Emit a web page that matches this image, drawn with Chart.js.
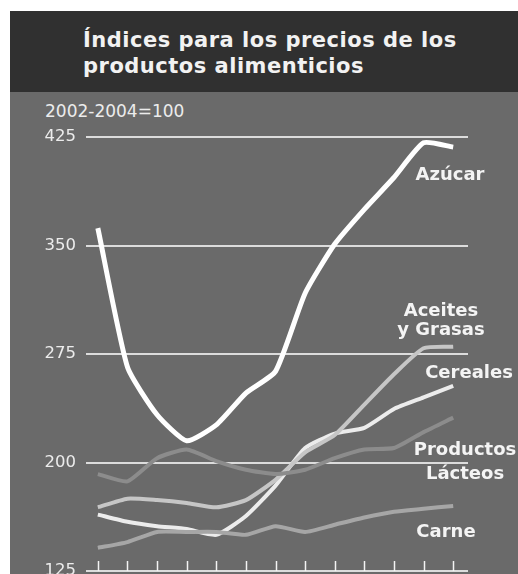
<!DOCTYPE html>
<html lang="es">
<head>
<meta charset="utf-8">
<title>Índices para los precios de los productos alimenticios</title>
<script src="https://cdn.jsdelivr.net/npm/chart.js@4.4.1/dist/chart.umd.min.js"></script>
<style>
  html, body { margin: 0; padding: 0; background: #fff; overflow: hidden; }
  body { width: 518px; height: 574px; position: relative; font-family: "DejaVu Sans", sans-serif; }
  .head {
    position: absolute; left: 10px; top: 11px; width: 508px; height: 81px;
    background: #303030; color: #f2f2f2;
  }
  .head h1 {
    margin: 0; position: absolute; left: 73px; top: 16px;
    font-size: 21px; line-height: 26px; font-weight: bold; letter-spacing: 0.5px;
  }
  .panel {
    position: absolute; left: 10px; top: 92px; width: 508px; height: 500px;
    background: #6a6a6a;
  }
  .base {
    position: absolute; left: 35px; top: 9px; margin: 0;
    color: #ececec; font-size: 17px; line-height: 20px;
  }
  canvas { position: absolute; left: 0; top: 0; }
</style>
</head>
<body>
<div class="head"><h1>Índices para los precios de los<br>productos alimenticios</h1></div>
<div class="panel">
  <p class="base">2002-2004=100</p>
  <canvas id="foodChart" width="508" height="500"></canvas>
</div>
<script>
// Febrero 2010 - febrero 2011, índices 2002-2004=100
const months = ['feb', 'mar', 'abr', 'may', 'jun', 'jul', 'ago', 'sep', 'oct', 'nov', 'dic', 'ene', 'feb'];
const yTicks = [125, 200, 275, 350, 425];

const azucar = [362, 266, 233, 215, 226, 248, 263, 317, 351, 375, 397, 421, 418];
const aceites = [169, 175, 174, 172, 169, 174, 188, 207, 219, 240, 261, 279, 280];
const cereales = [164, 159, 156, 154, 150, 163, 184, 210, 220, 224, 237, 245, 253];
const lacteos = [192, 187, 203, 209, 201, 195, 192, 195, 203, 209, 210, 221, 231];
const carne = [141, 145, 152, 152, 152, 150, 156, 152, 157, 162, 166, 168, 170];

const seriesLabels = [
  { lines: ['Azúcar'], x: 440, y: 83, gap: 0 },
  { lines: ['Aceites', 'y Grasas'], x: 431, y: 219, gap: 19 },
  { lines: ['Cereales'], x: 459, y: 281, gap: 0 },
  { lines: ['Productos', 'Lácteos'], x: 455, y: 358, gap: 24 },
  { lines: ['Carne'], x: 436, y: 440, gap: 0 },
];

const toPoints = (values) => values.map((v, i) => ({ x: i, y: v }));

const lineSet = (label, values, color, width) => ({
  label,
  data: toPoints(values),
  parsing: false,
  borderColor: color,
  borderWidth: width,
  pointRadius: 0,
  tension: 0.18,
  clip: false,
  borderCapStyle: 'butt',
  borderJoinStyle: 'round',
});

const tickMarks = {
  id: 'tickMarks',
  afterDraw(chart) {
    const { ctx, scales, chartArea } = chart;
    ctx.save();
    ctx.strokeStyle = '#f4f4f4';
    ctx.lineWidth = 1.5;
    months.forEach((m, i) => {
      const x = Math.round(scales.x.getPixelForValue(i)) + 0.5;
      ctx.beginPath();
      ctx.moveTo(x, chartArea.bottom - 10);
      ctx.lineTo(x, chartArea.bottom);
      ctx.stroke();
    });
    ctx.restore();
  },
};

const endLabels = {
  id: 'endLabels',
  afterDatasetsDraw(chart) {
    const { ctx } = chart;
    ctx.save();
    ctx.font = 'bold 18px "DejaVu Sans", sans-serif';
    ctx.fillStyle = '#f4f4f4';
    ctx.textAlign = 'center';
    ctx.textBaseline = 'middle';
    seriesLabels.forEach((item) => {
      item.lines.forEach((line, k) => {
        ctx.fillText(line, item.x, item.y + k * item.gap);
      });
    });
    ctx.restore();
  },
};

new Chart(document.getElementById('foodChart'), {
  type: 'line',
  data: {
    datasets: [
      lineSet('Carne', carne, '#a6a6a6', 4),
      lineSet('Productos Lácteos', lacteos, '#8c8c8c', 4),
      lineSet('Aceites y Grasas', aceites, '#c6c6c6', 4),
      lineSet('Cereales', cereales, '#ececec', 4),
      lineSet('Azúcar', azucar, '#ffffff', 5),
    ],
  },
  options: {
    responsive: false,
    animation: false,
    layout: { padding: { top: 45, right: 50, bottom: 21, left: 0 } },
    scales: {
      x: {
        type: 'linear',
        display: false,
        min: -0.4,
        max: 12.5,
      },
      y: {
        min: 125,
        max: 425,
        afterBuildTicks: (scale) => {
          scale.ticks = yTicks.map((v) => ({ value: v }));
        },
        afterFit: (scale) => {
          scale.width = 76;
        },
        border: { display: false },
        grid: {
          color: '#dcdcdc',
          lineWidth: 2,
          drawTicks: false,
        },
        ticks: {
          color: '#ececec',
          padding: 10,
          font: { family: '"DejaVu Sans", sans-serif', size: 16.5 },
        },
      },
    },
    plugins: {
      legend: { display: false },
      tooltip: { enabled: false },
    },
  },
  plugins: [tickMarks, endLabels],
});
</script>
</body>
</html>
